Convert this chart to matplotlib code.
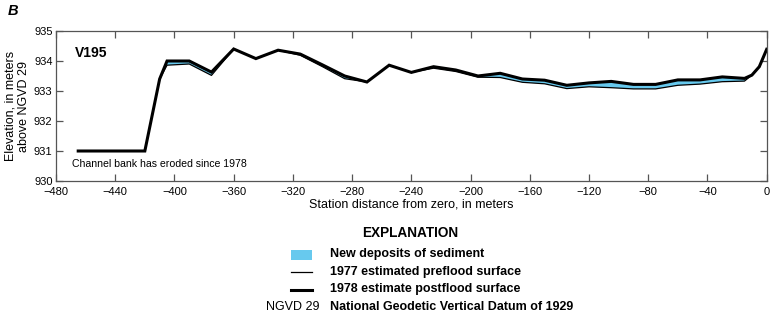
import matplotlib
matplotlib.use('Agg')
from matplotlib import pyplot as plt
from matplotlib.patches import Rectangle
from matplotlib.lines import Line2D

plt.rcParams['font.family'] = ['Liberation Sans', 'DejaVu Sans']

# station distance, meters
station = [-465, -420, -410, -405, -390, -375, -360, -345, -330, -315, -300, -285,
           -270, -255, -240, -225, -210, -195, -180, -165, -150, -135, -120, -105,
           -90, -75, -60, -45, -30, -15, -10, -5, 0]
# 1977 estimated preflood surface
elev_1977 = [931.0, 931.0, 933.40, 933.86, 933.90, 933.52, 934.40, 934.08, 934.36, 934.19,
             933.81, 933.41, 933.30, 933.86, 933.62, 933.76, 933.65, 933.46, 933.45, 933.29,
             933.24, 933.08, 933.14, 933.11, 933.07, 933.07, 933.19, 933.23, 933.31, 933.33,
             933.53, 933.81, 934.39]
# 1978 estimate postflood surface
elev_1978 = [931.0, 931.0, 933.40, 934.00, 934.00, 933.63, 934.40, 934.08, 934.36, 934.23,
             933.87, 933.50, 933.30, 933.86, 933.62, 933.81, 933.70, 933.50, 933.59, 933.40,
             933.36, 933.19, 933.27, 933.32, 933.22, 933.22, 933.37, 933.37, 933.47, 933.42,
             933.53, 933.81, 934.39]

xticks = [-480, -440, -400, -360, -320, -280, -240, -200, -160, -120, -80, -40, 0]
yticks = [930, 931, 932, 933, 934, 935]

fig = plt.figure(figsize=(7.7, 3.15), dpi=100)
ax = fig.add_axes([56 / 770, 1 - 181 / 315, (766.7 - 56) / 770, 150 / 315])

deposit = '#67C9EE'
ax.fill_between(station, elev_1977, elev_1978, where=[b > a for a, b in zip(elev_1977, elev_1978)],
                interpolate=True, color=deposit, linewidth=0)
ax.plot(station, elev_1977, color='black', linewidth=0.9)
ax.plot(station, elev_1978, color='black', linewidth=2.2, solid_joinstyle='miter')

ax.set_xlim(-480, 0)
ax.set_ylim(930, 935)
ax.set_xticks(xticks)
ax.set_yticks(yticks)
ax.set_xticklabels([str(t).replace('-', '\u2212') for t in xticks])
for s in ax.spines.values():
    s.set_color('#555555')
    s.set_linewidth(0.9)
ax.tick_params(direction='in', length=5, width=0.9, color='#555555', labelsize=8,
               top=True, right=True)
ax.tick_params(axis='x', pad=4.5)
ax.tick_params(axis='y', pad=2.5)

ax.set_xlabel('Station distance from zero, in meters', fontsize=9, labelpad=1)
ax.set_ylabel('Elevation, in meters\nabove NGVD 29', fontsize=9, labelpad=3, linespacing=1.1)

ax.text(-467, 934.12, 'V195', fontsize=10, fontweight='bold')
ax.text(-469, 930.56, 'Channel bank has eroded since 1978', fontsize=7.6, va='center')

fig.text(8 / 770, 1 - 11 / 315, 'B', fontsize=10.5, fontweight='bold', style='italic', va='center')

# explanation
fig.text(410 / 770, 1 - 233 / 315, 'EXPLANATION', fontsize=9.8, fontweight='bold', ha='center', va='center')
fig.add_artist(Rectangle((291 / 770, 1 - 259.5 / 315), 21 / 770, 10 / 315,
                         transform=fig.transFigure, color=deposit, linewidth=0))
fig.add_artist(Line2D([291 / 770, 312 / 770], [1 - 272 / 315] * 2, transform=fig.transFigure,
                      color='black', linewidth=0.9))
fig.add_artist(Line2D([291 / 770, 312 / 770], [1 - 289.5 / 315] * 2, transform=fig.transFigure,
                      color='black', linewidth=2.2))
rows = [(253.5, 'New deposits of sediment'),
        (271.5, '1977 estimated preflood surface'),
        (289.3, '1978 estimate postflood surface'),
        (306.7, 'National Geodetic Vertical Datum of 1929')]
for y, label in rows:
    fig.text(330 / 770, 1 - y / 315, label, fontsize=9, fontweight='bold', va='center')
fig.text(320 / 770, 1 - 306.7 / 315, 'NGVD 29', fontsize=9, ha='right', va='center')

fig.savefig('out.png', dpi=100)
